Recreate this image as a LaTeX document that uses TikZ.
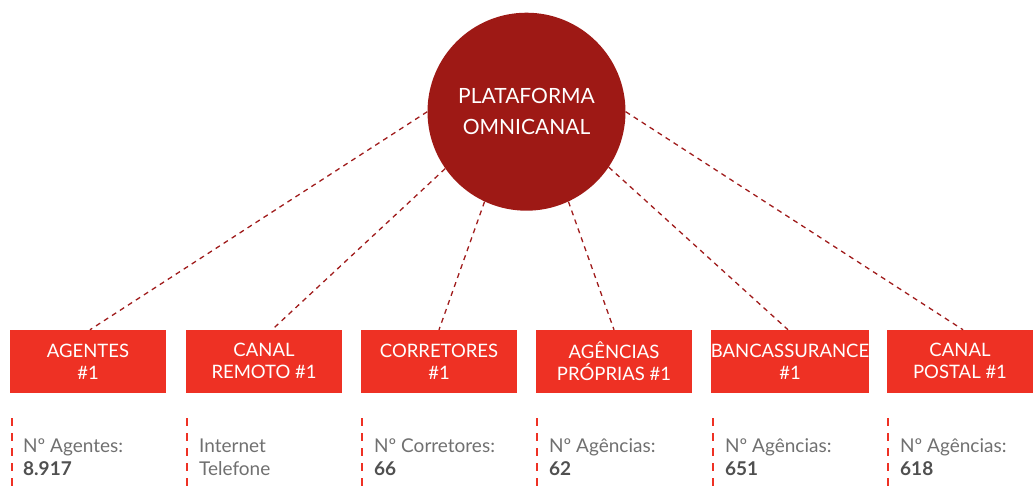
\documentclass[tikz,border=0pt]{standalone}
\usepackage{fontspec}
\setmainfont{Lato}
\definecolor{hubred}{HTML}{9E1915}
\definecolor{boxred}{HTML}{EE3124}
\definecolor{linkred}{HTML}{A01C1C}
\definecolor{txtgray}{HTML}{707070}
\definecolor{numgray}{HTML}{505050}
\tikzset{
  hub/.style={circle, fill=hubred, minimum size=198pt, inner sep=0pt, text=white, align=center, font=\fontsize{21}{31}\selectfont},
  chanbox/.style={rectangle, fill=boxred, minimum width=156pt, minimum height=62.7pt, inner sep=0pt, text=white, align=center, font=\fontsize{18.5}{22}\selectfont},
  link/.style={draw=linkred, line width=1.3pt, dash pattern=on 5pt off 4.5pt},
  vline/.style={draw=boxred, line width=2pt, dash pattern=on 7.5pt off 7.5pt},
  info/.style={anchor=base west, align=left, text=txtgray, inner sep=0pt, font=\fontsize{19}{23}\selectfont},
}
\newcommand{\num}[1]{\textcolor{numgray}{\textbf{#1}}}
\begin{document}
\begin{tikzpicture}[x=1pt,y=-1pt]
\useasboundingbox (0,0) rectangle (1033,490);
\node[hub] (c) at (526.5,111.7) {PLATAFORMA\\OMNICANAL};
\node[chanbox] (b1) at (88,361.3) {AGENTES\\\#1};
\node[chanbox] (b2) at (264,361.3) {CANAL\\REMOTO \#1};
\node[chanbox] (b3) at (439,361.3) {CORRETORES\\\#1};
\node[chanbox] (b4) at (614,361.3) {AGÊNCIAS\\PRÓPRIAS \#1};
\node[chanbox] (b5) at (790,361.3) {BANCASSURANCE\\\#1};
\node[chanbox, minimum width=146pt] (b6) at (960,361.3) {CANAL\\POSTAL \#1};
\draw[link] (c.west) -- ([xshift=2pt]b1.north);
\draw[link] (c.215) -- ([xshift=8pt]b2.north);
\draw[link] (c.245) -- (b3.north);
\draw[link] (c.295) -- (b4.north);
\draw[link] (c.326) -- ([xshift=-2pt]b5.north);
\draw[link] (c.east) -- ([xshift=3pt]b6.north);
\foreach \i/\x in {1/11.7,2/187,3/362,4/537,5/713,6/888}{
  \coordinate (t\i) at (\x,418);
  \coordinate (u\i) at (\x,492);
  \draw[vline] (t\i) -- (u\i);
}
\node[info] (i1) at (23,475) {Nº Agentes:\\\num{8.917}};
\node[info] (i2) at (199,475) {Internet\\Telefone};
\node[info] (i3) at (374,475) {Nº Corretores:\\\num{66}};
\node[info] (i4) at (549,475) {Nº Agências:\\\num{62}};
\node[info] (i5) at (725,475) {Nº Agências:\\\num{651}};
\node[info] (i6) at (900,475) {Nº Agências:\\\num{618}};
\end{tikzpicture}
\end{document}
